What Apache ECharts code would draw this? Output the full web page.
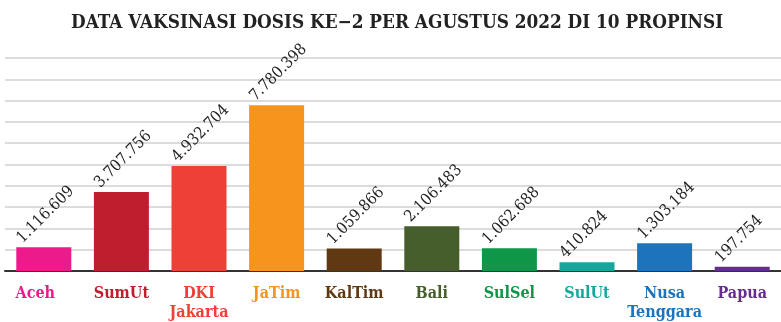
<!DOCTYPE html>
<html>
<head>
<meta charset="utf-8">
<style>
  html, body { margin: 0; padding: 0; background: #ffffff; }
  #chart { width: 781px; height: 322px; }
</style>
<script src="https://cdn.jsdelivr.net/npm/echarts@6/dist/echarts.min.js"></script>
</head>
<body>
<div id="chart"></div>
<script>
// Provinces, second-dose vaccination counts (August 2022) and bar colours
const provinces = ['Aceh', 'SumUt', 'DKI\nJakarta', 'JaTim', 'KalTim', 'Bali', 'SulSel', 'SulUt', 'Nusa\nTenggara', 'Papua'];
const dose2 = [1116609, 3707756, 4932704, 7780398, 1059866, 2106483, 1062688, 410824, 1303184, 197754];
const colors = ['#ec1a8b', '#be1e2d', '#ee4036', '#f7941d', '#603913', '#455e2b', '#0f9648', '#14a89d', '#1c75bc', '#662d91'];

const serif = 'DejaVu Serif Condensed, DejaVu Serif, serif';

// Indonesian thousands separator: 1.116.609
function fmt(v) {
  return String(v).replace(/\B(?=(\d{3})+(?!\d))/g, '.');
}

const chart = echarts.init(document.getElementById('chart'), null, { renderer: 'canvas' });

chart.setOption({
  animation: false,
  title: {
    text: 'DATA VAKSINASI DOSIS KE\u22122 PER AGUSTUS 2022 DI 10 PROPINSI',
    left: 66,
    top: 9,
    textStyle: {
      fontFamily: serif,
      fontWeight: 'bold',
      fontSize: 18.8,
      color: '#222222'
    }
  },
  grid: { left: 5, right: -12, top: 58, bottom: 50, containLabel: false },
  xAxis: {
    type: 'category',
    data: provinces.map(function (p, i) {
      // the first label sits slightly left of its bar
      return i === 0 ? { value: p, textStyle: { padding: [0, 17, 0, 0] } } : p;
    }),
    axisTick: { show: false },
    axisLine: { lineStyle: { color: '#333333', width: 2 } },
    axisLabel: {
      interval: 0,
      margin: 13,
      fontFamily: serif,
      fontWeight: 'bold',
      fontSize: 16,
      lineHeight: 19,
      color: function (value, index) { return colors[index]; }
    }
  },
  yAxis: {
    type: 'value',
    min: 0,
    max: 10000000,
    interval: 1000000,
    axisLabel: { show: false },
    axisLine: { show: false },
    axisTick: { show: false },
    splitLine: { lineStyle: { color: '#dcdcdc', width: 2 } }
  },
  series: [{
    type: 'bar',
    barWidth: 55,
    data: dose2.map(function (v, i) {
      return { value: v, itemStyle: { color: colors[i] } };
    }),
    label: {
      show: true,
      position: [9, -1],
      rotate: 45,
      align: 'left',
      verticalAlign: 'bottom',
      fontFamily: serif,
      fontSize: 16,
      color: '#222222',
      formatter: function (p) { return fmt(p.value); }
    }
  }]
});
</script>
</body>
</html>
